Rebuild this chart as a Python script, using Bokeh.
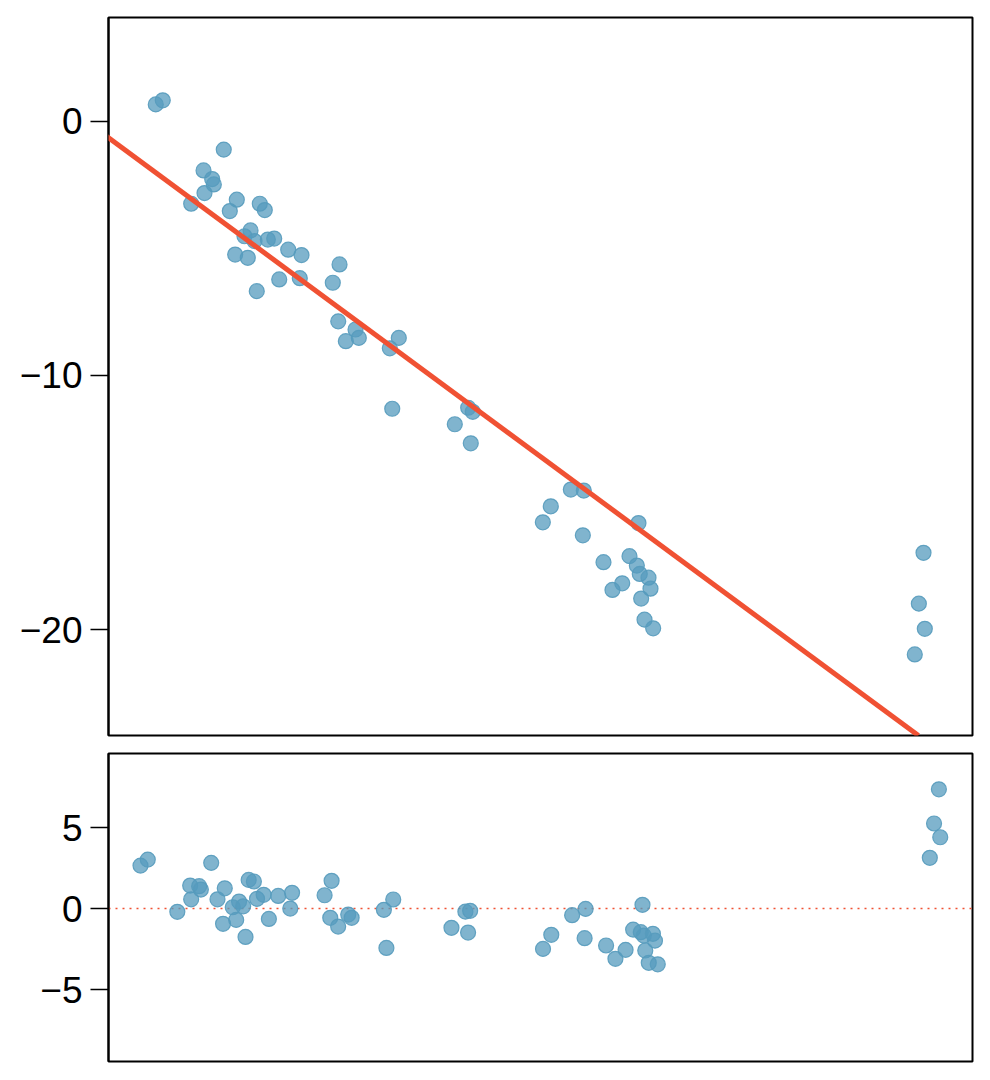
from bokeh.plotting import figure
from bokeh.layouts import column
from bokeh.models import Range1d, FixedTicker, Slope, Span, ColumnDataSource
from bokeh.embed import file_html
from bokeh.resources import INLINE

# ---- data ----
x = [5.47, 6.28, 13.34, 11.00, 12.00, 12.19, 11.11, 9.57, 14.85, 14.04,
     17.51, 18.09, 16.44, 15.74, 16.90, 18.44, 19.18, 14.66, 16.12, 20.80,
     22.34, 19.76, 22.14, 17.16, 26.74, 25.96, 26.59, 28.59, 28.97, 27.47,
     33.60, 32.56, 32.84, 41.63, 42.16, 40.08, 41.93, 53.51, 55.01, 51.19,
     50.27, 54.90, 61.34, 57.29, 60.30, 61.15, 61.49, 62.50, 62.73, 59.46,
     58.33, 61.65, 62.04, 63.04, 94.33, 93.79, 94.48, 93.32]
y = [0.67, 0.83, -1.11, -1.93, -2.27, -2.48, -2.82, -3.24, -3.08, -3.53,
     -3.24, -3.49, -4.29, -4.52, -4.71, -4.65, -4.61, -5.24, -5.37, -5.05,
     -5.26, -6.22, -6.17, -6.68, -5.63, -6.35, -7.87, -8.19, -8.52, -8.65,
     -8.52, -8.93, -11.31, -11.27, -11.43, -11.92, -12.67, -14.49, -14.53, -15.15,
     -15.78, -16.29, -15.81, -17.35, -17.11, -17.48, -17.81, -17.96, -18.39, -18.18,
     -18.44, -18.78, -19.61, -19.95, -16.98, -18.98, -19.97, -20.98]
resid = [2.65, 3.02, 2.82, 1.42, 1.38, 1.17, 0.57, -0.20, 1.25, 0.57,
         1.77, 1.67, 0.43, 0.08, 0.14, 0.60, 0.85, -0.94, -0.70, 0.78,
         0.97, -0.64, 0.00, -1.75, 1.71, 0.82, -0.57, -0.37, -0.57, -1.11,
         0.56, -0.08, -2.43, -0.19, -0.14, -1.19, -1.48, -0.41, -0.02, -1.62,
         -2.49, -1.83, 0.23, -2.28, -1.30, -1.46, -1.67, -1.56, -1.98, -2.55,
         -3.10, -2.59, -3.35, -3.44, 7.36, 5.25, 4.40, 3.13]
fit_intercept = -0.642
fit_slope = -0.251
top_ticks = [-20, -10, 0]
bottom_ticks = [-5, 0, 5]
top_labels = {-20: "\u221220", -10: "\u221210", 0: "0"}
bottom_labels = {-5: "\u22125", 0: "0", 5: "5"}

PT = "#569BBD"
RED = "#F05133"
FONT = "Liberation Sans"

src = ColumnDataSource(data=dict(x=x, y=y, resid=resid))


def style(p, ticks, labels):
    p.outline_line_color = "black"
    p.outline_line_width = 2
    p.outline_line_alpha = 1
    p.xgrid.visible = False
    p.ygrid.visible = False
    ax = p.yaxis[0]
    ax.ticker = FixedTicker(ticks=ticks)
    ax.major_label_overrides = labels
    ax.minor_tick_line_color = None
    ax.major_tick_in = 0
    ax.major_tick_out = 18
    ax.major_tick_line_width = 1.5
    ax.major_tick_line_color = "black"
    ax.axis_line_color = "black"
    ax.axis_line_width = 2
    ax.major_label_text_font = FONT
    ax.major_label_text_font_size = "37px"
    ax.major_label_text_color = "black"
    ax.major_label_standoff = 8
    p.background_fill_color = "white"
    p.border_fill_color = "white"


p1 = figure(width=982, height=744, output_backend="svg", toolbar_location=None,
            x_axis_location=None, x_range=Range1d(0, 100), y_range=Range1d(-24.17, 4.09),
            min_border_left=108, min_border_right=10, min_border_top=17, min_border_bottom=9)
style(p1, top_ticks, top_labels)
p1.scatter("x", "y", source=src, size=15, fill_color=PT, fill_alpha=0.75,
           line_color=PT, line_alpha=0.9, line_width=1.2)
p1.add_layout(Slope(gradient=fit_slope, y_intercept=fit_intercept,
                    line_color=RED, line_width=5))

p2 = figure(width=982, height=326, output_backend="svg", toolbar_location=None,
            x_axis_location=None, x_range=Range1d(1.91, 98.07), y_range=Range1d(-9.44, 9.57),
            min_border_left=108, min_border_right=10, min_border_top=9, min_border_bottom=9)
style(p2, bottom_ticks, bottom_labels)
p2.add_layout(Span(location=0, dimension="width", line_color=RED, line_width=1.5,
                   line_dash="2 5", level="underlay"))
p2.scatter("x", "resid", source=src, size=15, fill_color=PT, fill_alpha=0.75,
           line_color=PT, line_alpha=0.9, line_width=1.2)

layout = column(p1, p2, spacing=0)
open("out.html", "w").write(file_html(layout, INLINE))
